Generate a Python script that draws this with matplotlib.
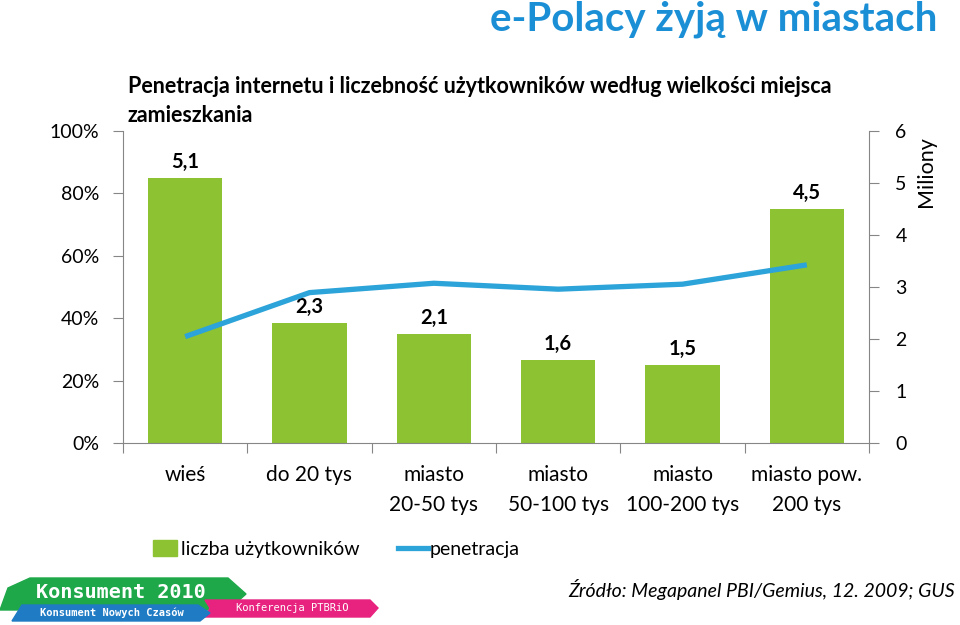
import matplotlib
matplotlib.use('Agg')
import matplotlib.pyplot as plt
from matplotlib.patches import Polygon, Rectangle
from matplotlib.lines import Line2D
import numpy as np

plt.rcParams['font.family'] = ['Lato', 'DejaVu Sans']

categories = ['wieś', 'do 20 tys', 'miasto\n20-50 tys', 'miasto\n50-100 tys',
              'miasto\n100-200 tys', 'miasto pow.\n200 tys']
users_mln = [5.1, 2.3, 2.1, 1.6, 1.5, 4.5]
user_labels = ['5,1', '2,3', '2,1', '1,6', '1,5', '4,5']
penetration = [34.1, 48.2, 51.2, 49.3, 50.9, 57.1]

GREEN = '#8dc232'
BLUE = '#2ca3d9'
AXC = '#868686'

fig = plt.figure(figsize=(9.6, 6.25), dpi=100)
ax = fig.add_axes([123/960, 1 - 443/625, (869-123)/960, (443-131)/625])
ax2 = ax.twinx()

x = np.arange(len(categories))

# bars on the right axis (millions)
ax2.bar(x, users_mln, width=0.6, color=GREEN, zorder=1)
for xi, v, lab in zip(x, users_mln, user_labels):
    ax2.text(xi, v + 0.12, lab, ha='center', va='bottom', fontsize=14.5,
             fontweight='bold')
ax2.set_ylim(0, 6)
ax2.set_yticks(range(7))
ax2.set_ylabel('Miliony', fontsize=15.5, labelpad=6)
ax2.yaxis.set_label_coords(1.063, 0.87)

# line on the left axis (%)
ax.set_zorder(ax2.get_zorder() + 1)
ax.patch.set_visible(False)
ax.plot(x, penetration, color=BLUE, lw=3.8, solid_capstyle='butt')
ax.set_ylim(0, 100)
ax.set_yticks(range(0, 101, 20))
ax.set_yticklabels([f'{v}%' for v in range(0, 101, 20)])
ax.set_xlim(-0.5, len(categories) - 0.5)
ax.set_xticks(np.arange(-0.5, len(categories), 1.0))
ax.set_xticklabels([])
ax.set_xticks(x, minor=True)
ax.set_xticklabels(categories, minor=True, fontsize=15, linespacing=1.6)
ax.tick_params(axis='x', which='minor', length=0, pad=16)
ax.tick_params(axis='x', which='major', length=7, color=AXC, direction='out')

for a in (ax, ax2):
    a.spines['top'].set_visible(False)
    for s in ('left', 'right', 'bottom'):
        a.spines[s].set_color(AXC)
ax.spines['right'].set_visible(False)
ax2.spines['left'].set_visible(False)
ax2.spines['bottom'].set_visible(False)
ax.tick_params(axis='y', labelsize=14, color=AXC, length=7, pad=10)
ax2.tick_params(axis='y', labelsize=14, color=AXC, length=7, pad=12)

# titles
fig.text(937/960, 1 - 19/625, 'e-Polacy żyją w miastach', ha='right', va='center',
         fontsize=29, fontweight='bold', color='#1b8fd6')
fig.text(128/960, 1 - 76/625,
         'Penetracja internetu i liczebność użytkowników według wielkości miejsca\nzamieszkania',
         ha='left', va='top', fontsize=15.5, fontweight='bold', linespacing=1.45)

# legend
fig.patches.append(Rectangle((153/960, 1 - 556/625), 24/960, 16/625,
                             transform=fig.transFigure, color=GREEN))
fig.text(181/960, 1 - 549/625, 'liczba użytkowników', ha='left', va='center', fontsize=14)
fig.lines.append(Line2D([398/960, 428/960], [1 - 548/625] * 2, transform=fig.transFigure,
                        color=BLUE, lw=3.8))
fig.text(430/960, 1 - 549/625, 'penetracja', ha='left', va='center', fontsize=14)

# source
fig.text(955/960, 1 - 590/625, 'Źródło: Megapanel PBI/Gemius, 12. 2009; GUS',
         ha='right', va='center', fontsize=14, style='italic')

# conference logo
def fpoly(pts, color):
    fig.patches.append(Polygon([(px/960, 1 - py/625) for px, py in pts], closed=True,
                               transform=fig.transFigure, color=color, zorder=0))

fpoly([(0, 610), (8, 588), (30, 578), (228, 578), (246, 594), (228, 610)], '#1ea84a')
fpoly([(205, 600), (370, 600), (378, 608), (370, 617), (205, 617), (210, 608)], '#e8237f')
fpoly([(12, 621), (22, 605), (198, 605), (210, 613), (200, 621)], '#1f7bc4')
fig.text(36/960, 1 - 593/625, 'Konsument 2010', ha='left', va='center', fontsize=14.5,
         color='white', family='DejaVu Sans Mono', fontweight='bold')
fig.text(40/960, 1 - 613/625, 'Konsument Nowych Czasów', ha='left', va='center',
         fontsize=7.5, color='white', family='DejaVu Sans Mono', fontweight='bold')
fig.text(236/960, 1 - 608/625, 'Konferencja PTBRiO', ha='left', va='center',
         fontsize=7.5, color='white', family='DejaVu Sans Mono')

fig.savefig('out.png', dpi=100)
